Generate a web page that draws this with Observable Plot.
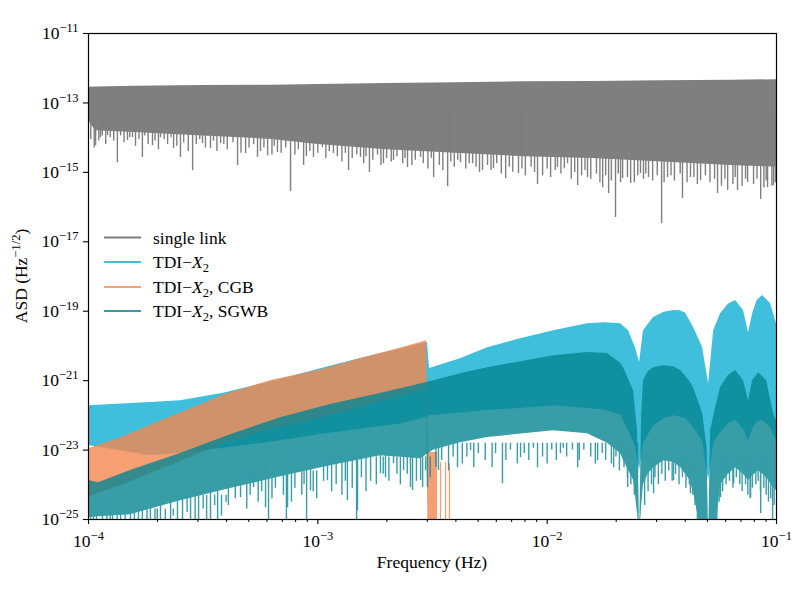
<!DOCTYPE html>
<html><head><meta charset="utf-8">
<script src="https://cdn.jsdelivr.net/npm/d3@7"></script>
<script src="https://cdn.jsdelivr.net/npm/@observablehq/plot@0.6"></script>
<style>
html,body{margin:0;padding:0;background:#fff;}
#chart{width:800px;height:591px;}
</style></head><body><div id="chart"></div>
<script>
// ---- data: log10(frequency / Hz) and log10(ASD) ----
// single link: body envelope
const grayF  = [-4.00,-3.97,-3.80,-3.50,-3.20,-3.00,-2.70,-2.40,-2.10,-1.80,-1.50,-1.20,-1.00];
const grayHi = [-12.55,-12.54,-12.52,-12.50,-12.49,-12.47,-12.44,-12.42,-12.39,-12.38,-12.36,-12.35,-12.33];
const grayLo = [-13.50,-13.80,-13.85,-13.95,-14.05,-14.20,-14.35,-14.45,-14.55,-14.60,-14.70,-14.80,-14.85];
// single link: deep dips
const graySpikeF  = [-3.969,-3.948,-3.917,-3.874,-3.830,-3.808,-3.765,-3.721,-3.686,-3.629,-3.599,-3.546,-3.503,-3.468,-3.424,-3.350,-3.315,-3.263,-3.219,-3.176,-3.119,-3.062,-3.019,-2.980,-2.932,-2.866,-2.814,-2.775,-2.714,-2.670,-2.609,-2.552,-2.495,-2.434,-2.378,-2.325,-2.282,-2.234,-2.181,-2.125,-2.042,-1.955,-1.911,-1.867,-1.824,-1.798,-1.758,-1.732,-1.702,-1.671,-1.636,-1.593,-1.558,-1.501,-1.475,-1.410,-1.375,-1.331,-1.257,-1.213,-1.170,-1.126,-1.069,-1.039,-1.013];
const graySpikeLo = [-14.23,-14.00,-13.94,-14.72,-14.08,-14.00,-14.57,-14.23,-14.00,-14.31,-14.57,-14.95,-14.17,-14.31,-14.17,-14.80,-14.46,-14.57,-14.52,-14.43,-15.55,-14.80,-14.57,-14.29,-14.46,-14.95,-14.57,-15.00,-14.75,-14.66,-14.86,-14.57,-15.15,-15.41,-14.72,-14.75,-14.95,-14.89,-15.18,-15.03,-15.35,-14.86,-14.75,-15.38,-15.15,-14.57,-15.44,-15.61,-16.30,-15.18,-15.32,-15.03,-15.15,-16.48,-15.15,-15.75,-15.15,-15.24,-15.61,-15.52,-15.52,-15.29,-15.78,-15.44,-15.38];
// single link: ragged lower edge
const grayToothF = [
 -3.990,-3.975,-3.955,-3.940,-3.925,-3.905,-3.890,-3.860,-3.845,-3.820,
 -3.795,-3.780,-3.755,-3.740,-3.710,-3.695,-3.670,-3.655,-3.640,-3.615,
 -3.585,-3.565,-3.530,-3.515,-3.490,-3.455,-3.440,-3.410,-3.395,-3.370,
 -3.335,-3.300,-3.280,-3.250,-3.235,-3.200,-3.190,-3.160,-3.140,-3.100,
 -3.085,-3.050,-3.035,-3.000,-2.965,-2.950,-2.915,-2.895,-2.880,-2.850,
 -2.830,-2.800,-2.790,-2.760,-2.740,-2.725,-2.700,-2.680,-2.655,-2.630,
 -2.620,-2.590,-2.575,-2.540,-2.520,-2.505,-2.470,-2.455,-2.420,-2.405,
 -2.390,-2.355,-2.340,-2.310,-2.295,-2.260,-2.245,-2.220,-2.200,-2.165,
 -2.150,-2.110,-2.095,-2.070,-2.055,-2.020,-2.000,-1.985,-1.965,-1.940,
 -1.925,-1.895,-1.880,-1.850,-1.835,-1.810,-1.785,-1.770,-1.745,-1.720,
 -1.690,-1.680,-1.650,-1.620,-1.605,-1.580,-1.570,-1.540,-1.520,-1.490,
 -1.460,-1.445,-1.420,-1.390,-1.360,-1.345,-1.310,-1.290,-1.270,-1.240,
 -1.225,-1.190,-1.180,-1.150,-1.135,-1.100,-1.085,-1.055,-1.045,-1.020,
 -1.005];
const grayToothLo = [
 -14.05,-14.30,-14.10,-13.95,-14.20,-14.00,-14.10,-13.95,-14.15,-14.00,
 -14.25,-14.05,-13.95,-14.20,-14.10,-14.35,-14.05,-14.20,-14.00,-14.25,
 -14.15,-14.40,-14.20,-14.05,-14.30,-14.10,-14.40,-14.20,-14.35,-14.15,
 -14.45,-14.30,-14.20,-14.40,-14.30,-14.50,-14.25,-14.45,-14.30,-14.50,
 -14.35,-14.55,-14.40,-14.45,-14.60,-14.40,-14.55,-14.70,-14.45,-14.60,
 -14.50,-14.75,-14.55,-14.65,-14.50,-14.80,-14.60,-14.70,-14.55,-14.75,
 -14.60,-14.80,-14.65,-14.75,-14.90,-14.60,-14.80,-14.95,-14.70,-14.85,
 -14.65,-14.90,-14.75,-14.85,-15.00,-14.80,-14.95,-14.75,-15.05,-14.85,
 -15.00,-14.90,-15.10,-14.85,-15.00,-15.10,-14.90,-15.15,-14.95,-15.05,
 -14.90,-15.20,-15.00,-15.10,-14.95,-15.20,-15.05,-15.30,-15.10,-15.25,
 -15.05,-15.30,-15.15,-15.30,-15.10,-15.20,-15.05,-15.25,-15.10,-15.30,
 -15.10,-15.25,-15.05,-15.30,-15.15,-15.35,-15.10,-15.30,-15.20,-15.40,
 -15.20,-15.35,-15.15,-15.40,-15.20,-15.35,-15.20,-15.45,-15.25,-15.40,
 -15.30];
const graySpikeTop = -13.3;

// TDI-X2
const blueF  = [-4.000,-3.730,-3.599,-3.411,-3.163,-2.988,-2.814,-2.639,-2.522,-2.513,-2.378,-2.260,-2.116,-1.972,-1.824,-1.750,-1.680,-1.645,-1.615,-1.597,-1.580,-1.536,-1.490,-1.449,-1.420,-1.397,-1.362,-1.322,-1.296,-1.274,-1.244,-1.210,-1.178,-1.144,-1.122,-1.104,-1.085,-1.061,-1.026,-1.000];
const blueHi = [-21.72,-21.63,-21.58,-21.36,-20.97,-20.66,-20.36,-20.09,-19.90,-20.65,-20.37,-20.05,-19.79,-19.56,-19.36,-19.33,-19.36,-19.56,-20.05,-20.48,-19.56,-19.18,-19.03,-18.98,-18.99,-19.05,-19.46,-20.05,-21.09,-19.56,-19.07,-18.80,-18.69,-18.98,-19.62,-19.07,-18.70,-18.55,-18.78,-19.36];
const blueLo = [-22.87,-23.16,-23.10,-22.95,-22.73,-22.55,-22.40,-22.25,-22.05,-22.01,-21.93,-21.86,-21.80,-21.72,-21.80,-21.85,-22.00,-22.44,-22.90,-23.59,-22.80,-22.30,-22.10,-22.01,-22.05,-22.10,-22.35,-22.75,-23.88,-22.80,-22.50,-22.25,-22.15,-22.40,-22.73,-22.40,-22.20,-22.15,-22.35,-22.73];

// TDI-X2, CGB
const orangeF  = [-4.000,-3.850,-3.686,-3.550,-3.411,-3.200,-2.988,-2.800,-2.650,-2.526,-2.519,-2.478];
const orangeHi = [-22.96,-22.62,-22.16,-21.80,-21.41,-20.99,-20.69,-20.34,-20.08,-19.85,-23.07,-23.07];
const orangeLo = [-24.36,-24.00,-23.56,-23.20,-22.81,-22.39,-22.09,-21.74,-21.48,-21.25,-26.00,-26.00];
const orangeSpikeF   = [-2.465,-2.443,-2.426];
const orangeSpikeLo  = [-26.0,-26.0,-26.0];
const orangeSpikeTop = [-23.36,-23.36,-23.40];

// TDI-X2, SGWB
const tealF  = [-4.000,-3.956,-3.817,-3.599,-3.381,-3.163,-2.945,-2.727,-2.552,-2.495,-2.378,-2.260,-1.972,-1.824,-1.737,-1.680,-1.667,-1.623,-1.606,-1.597,-1.588,-1.580,-1.560,-1.536,-1.492,-1.449,-1.418,-1.380,-1.362,-1.322,-1.303,-1.296,-1.287,-1.270,-1.244,-1.210,-1.178,-1.144,-1.122,-1.104,-1.078,-1.043,-1.013,-1.000];
const tealHi = [-23.88,-23.94,-23.59,-23.10,-22.56,-22.07,-21.69,-21.37,-21.10,-21.00,-20.80,-20.63,-20.28,-20.19,-20.22,-20.50,-20.63,-21.29,-22.44,-25.50,-22.00,-21.00,-20.75,-20.63,-20.57,-20.60,-20.71,-21.00,-21.20,-21.95,-22.93,-25.50,-22.44,-21.90,-21.20,-20.85,-20.71,-21.00,-21.58,-21.00,-20.77,-21.00,-21.95,-22.15];
const tealLo = [-24.95,-24.92,-24.86,-24.46,-24.11,-23.77,-23.45,-23.16,-23.25,-23.00,-22.79,-22.64,-22.44,-22.53,-22.80,-23.10,-23.30,-23.88,-24.80,-25.60,-24.60,-24.00,-23.70,-23.51,-23.31,-23.35,-23.50,-23.85,-24.20,-25.60,-25.60,-25.60,-25.60,-25.60,-24.00,-23.70,-23.51,-23.70,-23.88,-23.75,-23.59,-23.80,-24.08,-24.17];
// SGWB: deep dips
const tealSpikeF   = [-3.978,-3.939,-3.895,-3.860,-3.817,-3.782,-3.730,-3.686,-3.642,-3.612,-3.555,-3.520,-3.468,-3.437,-3.215,-3.137,-3.049,-2.831,
                      -3.337,-3.280,-3.228,-3.132,-3.032,-2.958,-2.871,-2.827,-2.727,-2.705,-2.670,-2.626,-2.596,-2.587,-2.552,-2.543,-2.522,-2.474,-2.391,-2.334,-2.195,-2.116,-2.042,-1.942,-1.867,-1.780,-1.710,-1.649,-1.606,-1.536,-1.449,-1.375,-1.331,-1.244,-1.187,-1.113,-1.069,-1.017];
const tealSpikeLo  = [-26,-26,-26,-26,-26,-26,-26,-26,-26,-26,-26,-26,-26,-26,-26,-26,-26,-26,
                      -24.37,-24.08,-24.66,-24.66,-24.17,-23.88,-24.46,-24.75,-23.68,-23.80,-23.39,-23.59,-24.08,-24.17,-23.88,-24.08,-24.08,-23.59,-23.51,-23.02,-23.97,-23.22,-23.51,-23.10,-23.51,-23.31,-23.51,-24.08,-24.83,-24.26,-23.88,-24.26,-24.83,-24.37,-23.97,-24.37,-24.83,-25.03];
const tealSpikeTop = [-24.7,-24.7,-24.7,-24.65,-24.6,-24.6,-24.5,-24.4,-24.3,-24.25,-24.2,-24.1,-24.0,-23.9,-23.6,-23.5,-23.3,-23.0,
                      -22.8,-22.8,-22.8,-22.8,-22.8,-22.8,-22.8,-22.8,-22.8,-22.8,-22.8,-22.8,-22.8,-22.8,-22.8,-22.8,-22.8,-22.8,-22.8,-22.8,-22.8,-22.8,-22.8,-22.8,-22.8,-22.8,-22.8,-22.8,-22.8,-22.8,-22.8,-22.8,-22.8,-22.8,-22.8,-22.8,-22.8,-22.8];
// SGWB: ragged lower edge, in stretches sharing one top level
const tealToothTops = [-24.7, -24.3, -23.6, -23.2, -22.8, -23.2];
const tealToothF = [
 [-3.990,-3.965,-3.920,-3.905,-3.875,-3.840,-3.800,-3.765,-3.745,-3.710,-3.700,-3.665,-3.630],
 [-3.590,-3.570,-3.535,-3.500,-3.485,-3.450,-3.420,-3.400],
 [-3.390,-3.360,-3.310,-3.295,-3.260,-3.245,-3.200,-3.185,-3.150,-3.115,-3.100,-3.070,-3.060,-3.020,-3.005],
 [-2.975,-2.940,-2.920,-2.895,-2.880,-2.850,-2.810,-2.790,-2.770,-2.745,-2.715,-2.690,-2.655,-2.640,-2.610,-2.570,-2.530,-2.510],
 [-2.485,-2.460,-2.430,-2.410,-2.370,-2.350,-2.320,-2.300,-2.270,-2.240,-2.225,-2.180,-2.160,-2.130,-2.100,-2.080,-2.060,-2.020,-2.000,-1.980,-1.960,-1.930,-1.915,-1.890,-1.860,-1.840,-1.810,-1.790,-1.760,-1.745,-1.720,-1.700,-1.685,-1.665,-1.650,-1.635,-1.620],
 [-1.575,-1.560,-1.545,-1.530,-1.515,-1.500,-1.485,-1.470,-1.455,-1.440,-1.425,-1.410,-1.395,-1.380,-1.365,-1.355,-1.345,-1.260,-1.250,-1.235,-1.220,-1.205,-1.190,-1.175,-1.160,-1.150,-1.135,-1.125,-1.115,-1.105,-1.090,-1.080,-1.070,-1.055,-1.045,-1.035,-1.025,-1.010]];
const tealToothLo = [
 [-25.3,-25.2,-25.4,-25.1,-25.3,-25.2,-25.4,-25.1,-25.3,-25.0,-25.3,-25.0,-24.9],
 [-25.2,-24.8,-25.1,-24.7,-25.0,-24.6,-24.9,-24.5],
 [-24.6,-24.4,-24.7,-24.3,-24.5,-24.2,-24.4,-24.1,-24.3,-24.5,-24.1,-24.3,-24.0,-24.2,-24.4],
 [-23.9,-24.2,-24.0,-24.3,-23.9,-24.1,-23.8,-24.2,-23.9,-24.0,-23.7,-23.9,-23.7,-24.0,-23.7,-23.9,-23.6,-23.8],
 [-23.5,-23.3,-23.6,-23.2,-23.4,-23.2,-23.5,-23.1,-23.3,-23.5,-23.1,-23.3,-23.0,-23.4,-23.1,-23.3,-22.95,-23.2,-23.4,-23.0,-23.3,-22.95,-23.2,-23.0,-23.3,-23.0,-23.2,-23.4,-23.1,-23.3,-23.4,-23.2,-23.6,-23.5,-23.8,-24.0,-24.3],
 [-24.6,-24.2,-24.0,-23.8,-24.0,-23.7,-23.9,-23.6,-23.9,-23.7,-24.0,-23.8,-24.1,-24.0,-24.3,-24.6,-25.0,-25.0,-24.5,-24.2,-24.0,-23.9,-24.1,-23.8,-24.0,-24.2,-24.0,-24.3,-24.4,-24.1,-24.0,-23.9,-24.2,-24.1,-24.3,-24.5,-24.4,-24.6]];

// ticks and legend
const xMajorTicks = [1e-4, 1e-3, 1e-2, 1e-1];
const yTicks = [1e-11, 1e-13, 1e-15, 1e-17, 1e-19, 1e-21, 1e-23, 1e-25];
const legendLabels = ["single link", "TDI−X2", "TDI−X2, CGB", "TDI−X2, SGWB"];

// ---- build ----
const FONT = "'Liberation Serif','Times New Roman',serif";
const COL = {gray: "#7f7f7f", blue: "#3fbfdb", orange: "#f5884f", teal: "#068592"};
const ALPHA = 0.8;

const band = (F, hi, lo) => F.map((f, i) => ({f: 10 ** f, hi: 10 ** hi[i], lo: 10 ** lo[i]}));
const spikes = (F, lo, top) => F.map((f, i) => ({f: 10 ** f, lo: 10 ** lo[i], top: 10 ** (Array.isArray(top) ? top[i] : top)}));

const grayDips = spikes(graySpikeF, graySpikeLo, graySpikeTop).concat(spikes(grayToothF, grayToothLo, graySpikeTop));
const tealDips = spikes(tealSpikeF, tealSpikeLo, tealSpikeTop)
  .concat(...tealToothF.map((F, k) => spikes(F, tealToothLo[k], tealToothTops[k])));

const xMinorTicks = [];
for (const d of [1e-4, 1e-3, 1e-2]) for (let k = 2; k <= 9; k++) xMinorTicks.push(k * d);

const expOf = d => Math.round(Math.log10(d));
const fmt = d => "10^" + expOf(d);

const chart = Plot.plot({
  width: 800, height: 591,
  marginLeft: 88, marginRight: 24, marginTop: 33, marginBottom: 72,
  style: {fontFamily: FONT, fontSize: "17.5px", background: "#fff", color: "#000"},
  x: {type: "log", domain: [1e-4, 1e-1], label: null},
  y: {type: "log", domain: [1e-25, 1e-11], label: null},
  marks: [
    Plot.areaY(band(grayF, grayHi, grayLo), {x: "f", y1: "lo", y2: "hi", fill: COL.gray, clip: true, ariaDescription: "gray"}),
    Plot.ruleX(grayDips, {x: "f", y1: "lo", y2: "top", stroke: COL.gray, strokeWidth: 1.4, clip: true, ariaDescription: "gray"}),
    Plot.areaY(band(blueF, blueHi, blueLo), {x: "f", y1: "lo", y2: "hi", fill: COL.blue, clip: true, ariaDescription: "blue"}),
    Plot.areaY(band(orangeF, orangeHi, orangeLo), {x: "f", y1: "lo", y2: "hi", fill: COL.orange, clip: true, ariaDescription: "orange"}),
    Plot.ruleX(spikes(orangeSpikeF, orangeSpikeLo, orangeSpikeTop), {x: "f", y1: "lo", y2: "top", stroke: COL.orange, strokeWidth: 1.3, clip: true, ariaDescription: "orange"}),
    Plot.areaY(band(tealF, tealHi, tealLo), {x: "f", y1: "lo", y2: "hi", fill: COL.teal, clip: true, ariaDescription: "teal"}),
    Plot.ruleX(tealDips, {x: "f", y1: "lo", y2: "top", stroke: COL.teal, strokeWidth: 1.4, clip: true, ariaDescription: "teal"}),
    Plot.frame({stroke: "#000", strokeWidth: 1.2}),
    Plot.axisX(xMinorTicks, {tickSize: 3, tickFormat: () => "", label: null, strokeWidth: 1}),
    Plot.axisX(xMajorTicks, {tickSize: 5, tickPadding: 10, tickFormat: fmt, label: null, fontSize: 17.5, strokeWidth: 1.1}),
    Plot.axisY(yTicks, {tickSize: 5, tickPadding: 5, tickFormat: fmt, label: null, fontSize: 17.5, strokeWidth: 1.1})
  ]
});
document.getElementById("chart").append(chart);

// ---- post-processing: group transparency, rich text, labels, legend ----
const ns = "http://www.w3.org/2000/svg";
const svg = chart.tagName.toLowerCase() === "svg" ? chart : chart.querySelector("svg");

for (const key of ["orange", "teal"]) {
  const nodes = svg.querySelectorAll(`[aria-description="${key}"]`);
  if (!nodes.length) continue;
  const g = document.createElementNS(ns, "g");
  g.setAttribute("opacity", ALPHA);
  nodes[0].parentNode.insertBefore(g, nodes[0]);
  nodes.forEach(n => g.appendChild(n));
}

function fillRich(t, parts, subSize) {
  while (t.firstChild) t.removeChild(t.firstChild);
  let shift = 0;
  for (const p of parts) {
    const s = document.createElementNS(ns, "tspan");
    const target = p.sub ? 4 : p.sup ? -7 : 0;
    if (target !== shift) { s.setAttribute("dy", target - shift); shift = target; }
    if (p.sub || p.sup) s.setAttribute("font-size", subSize || "12.5px");
    if (p.it) s.setAttribute("font-style", "italic");
    s.textContent = p.t;
    t.appendChild(s);
  }
}
function addText(parts, attrs) {
  const t = document.createElementNS(ns, "text");
  for (const k in attrs) t.setAttribute(k, attrs[k]);
  fillRich(t, parts);
  svg.appendChild(t);
  return t;
}

svg.querySelectorAll("text").forEach(t => {
  const m = /^10\^(-?\d+)$/.exec(t.textContent.trim());
  if (m) fillRich(t, [{t: "10"}, {t: m[1].replace("-", "−"), sup: true}], "12.5px");
});

addText([{t: "Frequency (Hz)"}], {x: 432, y: 568, "text-anchor": "middle", "font-family": FONT, "font-size": "17.5px", fill: "#000"});
addText([{t: "ASD (Hz"}, {t: "−1/2", sup: true}, {t: ")"}], {transform: "translate(27,276) rotate(-90)", "text-anchor": "middle", "font-family": FONT, "font-size": "17.5px", fill: "#000"});

// legend
const legendColors = [COL.gray, COL.blue, COL.orange, COL.teal];
const legendAlpha = [1, 1, ALPHA, ALPHA];
const legendRowsY = [237.5, 262, 287, 311];
legendLabels.forEach((lab, i) => {
  const y = legendRowsY[i];
  const ln = document.createElementNS(ns, "line");
  ln.setAttribute("x1", 104); ln.setAttribute("x2", 141);
  ln.setAttribute("y1", y); ln.setAttribute("y2", y);
  ln.setAttribute("stroke", legendColors[i]);
  ln.setAttribute("stroke-opacity", legendAlpha[i]);
  ln.setAttribute("stroke-width", 2);
  svg.appendChild(ln);
  let parts;
  if (lab.startsWith("TDI−X2")) {
    parts = [{t: "TDI−"}, {t: "X", it: true}, {t: "2", sub: true}];
    const rest = lab.slice("TDI−X2".length);
    if (rest) parts.push({t: rest});
  } else parts = [{t: lab}];
  addText(parts, {x: 153, y: y + 6, "text-anchor": "start", "font-family": FONT, "font-size": "17.5px", fill: "#000"});
});
</script></body></html>
